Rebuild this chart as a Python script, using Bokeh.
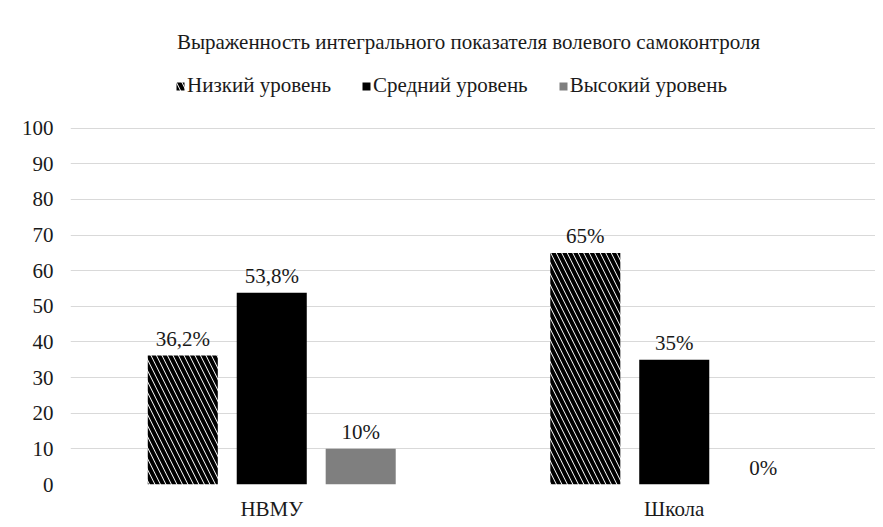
from bokeh.plotting import figure
from bokeh.models import (ColumnDataSource, FactorRange, Legend, LegendItem, LabelSet,
                          Range1d, FixedTicker, Label)
from bokeh.transform import dodge
from bokeh.embed import file_html
from bokeh.resources import INLINE

groups = ["НВМУ", "Школа"]
levels = ["Низкий уровень", "Средний уровень", "Высокий уровень"]
low = [36.2, 65]
mid = [53.8, 35]
high = [10, 0]
low_labels = ["36,2%", "65%"]
mid_labels = ["53,8%", "35%"]
high_labels = ["10%", "0%"]
y_ticks = [0, 10, 20, 30, 40, 50, 60, 70, 80, 90, 100]
title_text = "Выраженность интегрального показателя волевого самоконтроля"

FONT = "Liberation Serif"
FS = "21px"
TXT = "#1a1a1a"

src = ColumnDataSource(dict(groups=groups, low=low, mid=mid, high=high,
                            low_l=low_labels, mid_l=mid_labels, high_l=high_labels))

p = figure(x_range=FactorRange(*groups, range_padding=0),
           y_range=Range1d(0, 135.85),
           width=875, height=525, output_backend="svg", toolbar_location=None,
           min_border_left=70, min_border_right=0, min_border_top=0, min_border_bottom=41)
p.outline_line_color = None

W = 0.174
OFF = 0.221
r_low = p.vbar(x=dodge("groups", -OFF, range=p.x_range), top="low", width=W, source=src,
               fill_color="white", line_color=None, hatch_pattern="\\",
               hatch_color="black", hatch_scale=11, hatch_weight=4)
r_mid = p.vbar(x=dodge("groups", 0, range=p.x_range), top="mid", width=W, source=src,
               fill_color="black", line_color=None)
r_high = p.vbar(x=dodge("groups", OFF, range=p.x_range), top="high", width=W, source=src,
                fill_color="#7f7f7f", line_color=None)

for col, off in (("low_l", -OFF), ("mid_l", 0), ("high_l", OFF)):
    top = col.split("_")[0]
    ls = LabelSet(x=dodge("groups", off, range=p.x_range), y=top, text=col, source=src,
                  text_align="center", text_baseline="bottom", y_offset=5,
                  text_font=FONT, text_font_size=FS, text_color=TXT)
    p.add_layout(ls)

p.yaxis.ticker = FixedTicker(ticks=y_ticks)
p.ygrid.ticker = FixedTicker(ticks=y_ticks)
p.ygrid.grid_line_color = "#d9d9d9"
p.xgrid.grid_line_color = None
for ax in (p.xaxis[0], p.yaxis[0]):
    ax.axis_line_color = None
    ax.major_tick_line_color = None
    ax.minor_tick_line_color = None
    ax.major_tick_out = 0
    ax.major_tick_in = 0
    ax.major_label_text_font = FONT
    ax.major_label_text_font_size = FS
    ax.major_label_text_color = TXT
p.yaxis.major_label_standoff = 17
p.xaxis.major_label_standoff = 12

title = Label(x=398, y=443, x_units="screen", y_units="screen", text=title_text,
              text_align="center", text_baseline="middle", text_font=FONT,
              text_font_size=FS, text_color=TXT)
p.add_layout(title)

legend = Legend(items=[LegendItem(label=levels[0], renderers=[r_low]),
                       LegendItem(label=levels[1], renderers=[r_mid]),
                       LegendItem(label=levels[2], renderers=[r_high])],
                location=(105, 386), orientation="horizontal",
                glyph_width=10, glyph_height=10, label_standoff=2, spacing=30,
                padding=0, margin=0, border_line_color=None, background_fill_alpha=0,
                label_text_font=FONT, label_text_font_size=FS, label_text_color=TXT)
p.add_layout(legend, "center")

open("out.html", "w").write(file_html(p, INLINE))
